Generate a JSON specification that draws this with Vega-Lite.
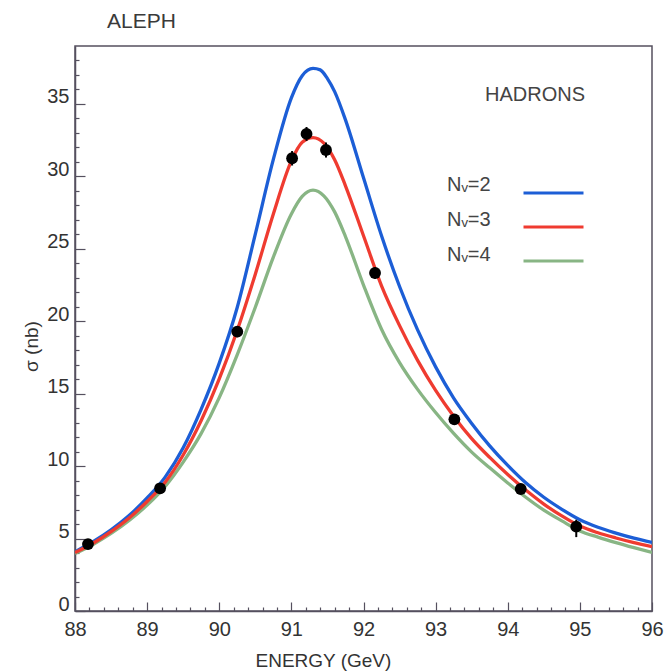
{
  "$schema": "https://vega.github.io/schema/vega-lite/v6.json",
  "width": 577,
  "height": 565,
  "autosize": {"type": "none"},
  "padding": {"left": 75, "top": 46, "right": 13, "bottom": 61},
  "background": "white",
  "config": {"view": {"stroke": "#55505f", "strokeWidth": 1.5}, "font": "Liberation Sans"},
  "title": {"text": "ALEPH", "anchor": "start", "frame": "group", "dx": 32, "offset": -3, "fontSize": 21, "fontWeight": "normal", "color": "#3a3a3a", "font": "Liberation Sans", "baseline": "alphabetic"},
  "datasets": {
    "curves": [
      {"E": 88.0, "sigma": 3.96, "N": "Nᵥ=4"}, {"E": 88.25, "sigma": 4.59, "N": "Nᵥ=4"}, {"E": 88.5, "sigma": 5.35, "N": "Nᵥ=4"}, {"E": 88.75, "sigma": 6.25, "N": "Nᵥ=4"},
      {"E": 89.0, "sigma": 7.31, "N": "Nᵥ=4"}, {"E": 89.25, "sigma": 8.6, "N": "Nᵥ=4"}, {"E": 89.5, "sigma": 10.28, "N": "Nᵥ=4"}, {"E": 89.75, "sigma": 12.26, "N": "Nᵥ=4"},
      {"E": 90.0, "sigma": 14.73, "N": "Nᵥ=4"}, {"E": 90.25, "sigma": 17.7, "N": "Nᵥ=4"}, {"E": 90.5, "sigma": 20.97, "N": "Nᵥ=4"}, {"E": 90.75, "sigma": 24.43, "N": "Nᵥ=4"},
      {"E": 91.0, "sigma": 27.41, "N": "Nᵥ=4"}, {"E": 91.15, "sigma": 28.62, "N": "Nᵥ=4"}, {"E": 91.3, "sigma": 29.05, "N": "Nᵥ=4"}, {"E": 91.45, "sigma": 28.66, "N": "Nᵥ=4"},
      {"E": 91.6, "sigma": 27.55, "N": "Nᵥ=4"}, {"E": 91.75, "sigma": 25.85, "N": "Nᵥ=4"}, {"E": 92.0, "sigma": 22.5, "N": "Nᵥ=4"}, {"E": 92.25, "sigma": 19.45, "N": "Nᵥ=4"},
      {"E": 92.5, "sigma": 17.15, "N": "Nᵥ=4"}, {"E": 92.75, "sigma": 15.3, "N": "Nᵥ=4"}, {"E": 93.0, "sigma": 13.7, "N": "Nᵥ=4"}, {"E": 93.25, "sigma": 12.26, "N": "Nᵥ=4"},
      {"E": 93.5, "sigma": 10.97, "N": "Nᵥ=4"}, {"E": 93.75, "sigma": 9.88, "N": "Nᵥ=4"}, {"E": 94.0, "sigma": 8.84, "N": "Nᵥ=4"}, {"E": 94.25, "sigma": 7.85, "N": "Nᵥ=4"},
      {"E": 94.5, "sigma": 6.96, "N": "Nᵥ=4"}, {"E": 94.75, "sigma": 6.22, "N": "Nᵥ=4"}, {"E": 95.0, "sigma": 5.53, "N": "Nᵥ=4"}, {"E": 95.25, "sigma": 5.1, "N": "Nᵥ=4"},
      {"E": 95.5, "sigma": 4.72, "N": "Nᵥ=4"}, {"E": 95.75, "sigma": 4.37, "N": "Nᵥ=4"}, {"E": 96.0, "sigma": 4.04, "N": "Nᵥ=4"},

      {"E": 88.0, "sigma": 4.09, "N": "Nᵥ=2"}, {"E": 88.25, "sigma": 4.78, "N": "Nᵥ=2"}, {"E": 88.5, "sigma": 5.6, "N": "Nᵥ=2"}, {"E": 88.75, "sigma": 6.59, "N": "Nᵥ=2"},
      {"E": 89.0, "sigma": 7.8, "N": "Nᵥ=2"}, {"E": 89.25, "sigma": 9.24, "N": "Nᵥ=2"}, {"E": 89.5, "sigma": 11.27, "N": "Nᵥ=2"}, {"E": 89.75, "sigma": 13.94, "N": "Nᵥ=2"},
      {"E": 90.0, "sigma": 17.11, "N": "Nᵥ=2"}, {"E": 90.25, "sigma": 20.97, "N": "Nᵥ=2"}, {"E": 90.5, "sigma": 26.02, "N": "Nᵥ=2"}, {"E": 90.75, "sigma": 31.17, "N": "Nᵥ=2"},
      {"E": 91.0, "sigma": 35.42, "N": "Nᵥ=2"}, {"E": 91.15, "sigma": 36.95, "N": "Nᵥ=2"}, {"E": 91.3, "sigma": 37.45, "N": "Nᵥ=2"}, {"E": 91.4, "sigma": 37.35, "N": "Nᵥ=2"},
      {"E": 91.5, "sigma": 36.75, "N": "Nᵥ=2"}, {"E": 91.6, "sigma": 35.85, "N": "Nᵥ=2"}, {"E": 91.75, "sigma": 33.9, "N": "Nᵥ=2"}, {"E": 92.0, "sigma": 29.9, "N": "Nᵥ=2"},
      {"E": 92.25, "sigma": 25.9, "N": "Nᵥ=2"}, {"E": 92.5, "sigma": 22.4, "N": "Nᵥ=2"}, {"E": 92.75, "sigma": 19.4, "N": "Nᵥ=2"}, {"E": 93.0, "sigma": 16.85, "N": "Nᵥ=2"},
      {"E": 93.25, "sigma": 14.7, "N": "Nᵥ=2"}, {"E": 93.5, "sigma": 12.95, "N": "Nᵥ=2"}, {"E": 93.75, "sigma": 11.4, "N": "Nᵥ=2"}, {"E": 94.0, "sigma": 10.05, "N": "Nᵥ=2"},
      {"E": 94.25, "sigma": 8.85, "N": "Nᵥ=2"}, {"E": 94.5, "sigma": 7.85, "N": "Nᵥ=2"}, {"E": 94.75, "sigma": 7.02, "N": "Nᵥ=2"}, {"E": 95.0, "sigma": 6.3, "N": "Nᵥ=2"},
      {"E": 95.25, "sigma": 5.78, "N": "Nᵥ=2"}, {"E": 95.5, "sigma": 5.38, "N": "Nᵥ=2"}, {"E": 95.75, "sigma": 5.03, "N": "Nᵥ=2"}, {"E": 96.0, "sigma": 4.74, "N": "Nᵥ=2"},

      {"E": 88.0, "sigma": 4.04, "N": "Nᵥ=3"}, {"E": 88.25, "sigma": 4.68, "N": "Nᵥ=3"}, {"E": 88.5, "sigma": 5.48, "N": "Nᵥ=3"}, {"E": 88.75, "sigma": 6.42, "N": "Nᵥ=3"},
      {"E": 89.0, "sigma": 7.56, "N": "Nᵥ=3"}, {"E": 89.25, "sigma": 8.89, "N": "Nᵥ=3"}, {"E": 89.5, "sigma": 10.77, "N": "Nᵥ=3"}, {"E": 89.75, "sigma": 13.15, "N": "Nᵥ=3"},
      {"E": 90.0, "sigma": 16.02, "N": "Nᵥ=3"}, {"E": 90.25, "sigma": 19.38, "N": "Nᵥ=3"}, {"E": 90.5, "sigma": 23.25, "N": "Nᵥ=3"}, {"E": 90.75, "sigma": 27.41, "N": "Nᵥ=3"},
      {"E": 91.0, "sigma": 31.07, "N": "Nᵥ=3"}, {"E": 91.15, "sigma": 32.36, "N": "Nᵥ=3"}, {"E": 91.3, "sigma": 32.68, "N": "Nᵥ=3"}, {"E": 91.45, "sigma": 32.3, "N": "Nᵥ=3"},
      {"E": 91.6, "sigma": 31.15, "N": "Nᵥ=3"}, {"E": 91.75, "sigma": 29.35, "N": "Nᵥ=3"}, {"E": 92.0, "sigma": 25.9, "N": "Nᵥ=3"}, {"E": 92.25, "sigma": 22.45, "N": "Nᵥ=3"},
      {"E": 92.5, "sigma": 19.7, "N": "Nᵥ=3"}, {"E": 92.75, "sigma": 17.3, "N": "Nᵥ=3"}, {"E": 93.0, "sigma": 15.23, "N": "Nᵥ=3"}, {"E": 93.25, "sigma": 13.45, "N": "Nᵥ=3"},
      {"E": 93.5, "sigma": 11.9, "N": "Nᵥ=3"}, {"E": 93.75, "sigma": 10.6, "N": "Nᵥ=3"}, {"E": 94.0, "sigma": 9.42, "N": "Nᵥ=3"}, {"E": 94.25, "sigma": 8.35, "N": "Nᵥ=3"},
      {"E": 94.5, "sigma": 7.38, "N": "Nᵥ=3"}, {"E": 94.75, "sigma": 6.56, "N": "Nᵥ=3"}, {"E": 95.0, "sigma": 5.86, "N": "Nᵥ=3"}, {"E": 95.25, "sigma": 5.4, "N": "Nᵥ=3"},
      {"E": 95.5, "sigma": 5.04, "N": "Nᵥ=3"}, {"E": 95.75, "sigma": 4.72, "N": "Nᵥ=3"}, {"E": 96.0, "sigma": 4.44, "N": "Nᵥ=3"}
    ],
    "points": [
      {"E": 88.18, "sigma": 4.62, "lo": 4.27, "hi": 4.97},
      {"E": 89.18, "sigma": 8.47, "lo": 8.1, "hi": 8.84},
      {"E": 90.25, "sigma": 19.28, "lo": 18.9, "hi": 19.66},
      {"E": 91.01, "sigma": 31.25, "lo": 30.75, "hi": 31.75},
      {"E": 91.21, "sigma": 32.93, "lo": 32.45, "hi": 33.41},
      {"E": 91.48, "sigma": 31.82, "lo": 31.3, "hi": 32.34},
      {"E": 92.16, "sigma": 23.33, "lo": 22.93, "hi": 23.73},
      {"E": 93.26, "sigma": 13.23, "lo": 12.88, "hi": 13.58},
      {"E": 94.18, "sigma": 8.42, "lo": 8.07, "hi": 8.77},
      {"E": 94.95, "sigma": 5.82, "lo": 5.1, "hi": 6.3}
    ]
  },
  "resolve": {"scale": {"x": "independent", "y": "independent"}, "axis": {"x": "independent", "y": "independent"}},
  "layer": [
    {
      "data": {"name": "curves"},
      "mark": {"type": "point", "opacity": 0, "size": 1},
      "encoding": {
        "x": {
          "field": "E", "type": "quantitative",
          "scale": {"domain": [88, 96], "nice": false, "zero": false},
          "axis": {
            "orient": "bottom", "title": null, "labels": false, "domain": false, "grid": false,
            "values": [88.2, 88.4, 88.6, 88.8, 89.2, 89.4, 89.6, 89.8, 90.2, 90.4, 90.6, 90.8, 91.2, 91.4, 91.6, 91.8, 92.2, 92.4, 92.6, 92.8, 93.2, 93.4, 93.6, 93.8, 94.2, 94.4, 94.6, 94.8, 95.2, 95.4, 95.6, 95.8],
            "tickSize": -4, "tickColor": "#55505f", "tickWidth": 1.2
          }
        },
        "y": {
          "field": "sigma", "type": "quantitative",
          "scale": {"domain": [0, 39], "nice": false, "zero": true},
          "axis": {
            "orient": "left", "title": null, "labels": false, "domain": false, "grid": false,
            "values": [1, 2, 3, 4, 6, 7, 8, 9, 11, 12, 13, 14, 16, 17, 18, 19, 21, 22, 23, 24, 26, 27, 28, 29, 31, 32, 33, 34, 36, 37, 38],
            "tickSize": -4, "tickColor": "#55505f", "tickWidth": 1.2
          }
        },
        "shape": {
          "field": "N", "type": "nominal",
          "legend": {
            "orient": "none",
            "legendX": 352,
            "legendY": 135,
            "title": null,
            "symbolOpacity": 0,
            "symbolSize": 0,
            "labelOffset": 0,
            "labelFontSize": 20,
            "labelColor": "#444444",
            "labelFont": "Liberation Sans",
            "labelBaseline": "alphabetic",
            "clipHeight": 20,
            "rowPadding": 9,
            "padding": 0
          }
        }
      }
    },
    {
      "data": {"name": "curves"},
      "mark": {"type": "line", "interpolate": "monotone", "strokeWidth": 3.3, "clip": true},
      "encoding": {
        "x": {
          "field": "E", "type": "quantitative",
          "scale": {"domain": [88, 96], "nice": false, "zero": false},
          "axis": {
            "orient": "bottom",
            "title": "ENERGY (GeV)",
            "values": [88, 89, 90, 91, 92, 93, 94, 95, 96],
            "format": "d",
            "tickSize": -9,
            "labelPadding": 17,
            "labelBaseline": "top",
            "labelFontSize": 20,
            "labelColor": "#333333",
            "labelFont": "Liberation Sans",
            "labelOverlap": false,
            "labelFlush": false,
            "domainColor": "#55505f",
            "domainWidth": 1.5,
            "tickColor": "#55505f",
            "tickWidth": 1.2,
            "grid": false,
            "titleFontSize": 19,
            "titleFontWeight": "normal",
            "titleColor": "#333333",
            "titleFont": "Liberation Sans",
            "titleX": 180,
            "titleY": 55,
            "titleAlign": "left",
            "titleBaseline": "alphabetic"
          }
        },
        "y": {
          "field": "sigma", "type": "quantitative",
          "scale": {"domain": [0, 39], "nice": false, "zero": true},
          "axis": {
            "orient": "left",
            "title": "σ (nb)",
            "values": [0, 5, 10, 15, 20, 25, 30, 35],
            "tickSize": -10,
            "labelPadding": 16,
            "labelOffset": -7,
            "labelFontSize": 20,
            "labelColor": "#333333",
            "labelFont": "Liberation Sans",
            "labelOverlap": false,
            "labelFlush": false,
            "domainColor": "#55505f",
            "domainWidth": 1.5,
            "tickColor": "#55505f",
            "tickWidth": 1.2,
            "grid": false,
            "titleFontSize": 19,
            "titleFontWeight": "normal",
            "titleColor": "#333333",
            "titleFont": "Liberation Sans",
            "titleX": -44,
            "titleY": 300,
            "titleAngle": -90,
            "titleAlign": "center",
            "titleBaseline": "middle"
          }
        },
        "color": {
          "field": "N", "type": "nominal",
          "scale": {"domain": ["Nᵥ=2", "Nᵥ=3", "Nᵥ=4"], "range": ["#1c5ed6", "#ef3b30", "#88b584"]},
          "legend": {
            "orient": "none",
            "legendX": 410,
            "legendY": 39,
            "title": "HADRONS",
            "titleFontSize": 20,
            "titleFontWeight": "normal",
            "titleColor": "#444444",
            "titleFont": "Liberation Sans",
            "titleAnchor": "end",
            "titleBaseline": "top",
            "titlePadding": 78,
            "symbolType": "stroke",
            "symbolSize": 3600,
            "symbolStrokeWidth": 3,
            "labelExpr": "''",
            "labelOffset": 0,
            "labelFontSize": 20,
            "clipHeight": 20,
            "rowPadding": 14,
            "padding": 0
          }
        }
      }
    },
    {
      "data": {"name": "points"},
      "mark": {"type": "rule", "strokeWidth": 2, "color": "black"},
      "encoding": {
        "x": {"field": "E", "type": "quantitative", "scale": {"domain": [88, 96], "nice": false, "zero": false}, "axis": null},
        "y": {"field": "lo", "type": "quantitative", "scale": {"domain": [0, 39], "nice": false, "zero": true}, "axis": null},
        "y2": {"field": "hi"}
      }
    },
    {
      "data": {"name": "points"},
      "mark": {"type": "point", "filled": true, "shape": "circle", "size": 140, "color": "black", "opacity": 1},
      "encoding": {
        "x": {"field": "E", "type": "quantitative", "scale": {"domain": [88, 96], "nice": false, "zero": false}, "axis": null},
        "y": {"field": "sigma", "type": "quantitative", "scale": {"domain": [0, 39], "nice": false, "zero": true}, "axis": null}
      }
    }
  ]
}
